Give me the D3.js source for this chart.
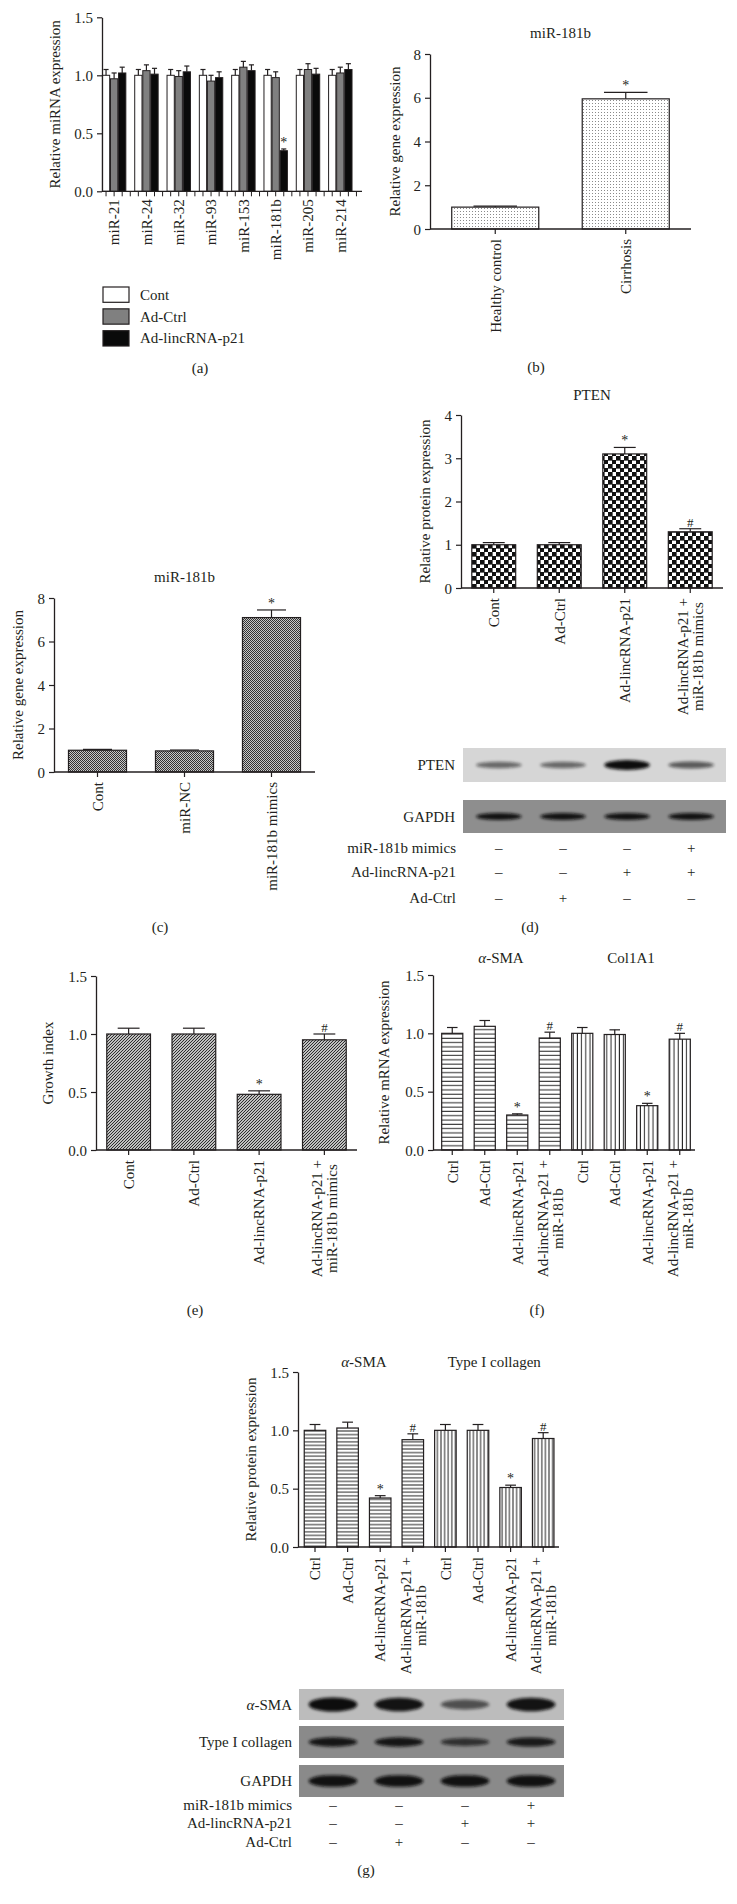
<!DOCTYPE html>
<html><head><meta charset="utf-8">
<script src="https://cdn.jsdelivr.net/npm/d3@7"></script>
<style>
html,body{margin:0;padding:0;background:#fff;}
svg{display:block;}
text{font-family:"Liberation Serif","Times New Roman",serif;fill:#231f20;}
</style></head><body>
<svg id="fig" width="737" height="1904"></svg>
<script>
// ================= DATA =================
// (a) relative miRNA expression
const aCategories = ["miR-21","miR-24","miR-32","miR-93","miR-153","miR-181b","miR-205","miR-214"];
const aSeries = ["Cont","Ad-Ctrl","Ad-lincRNA-p21"];
const aCont = [1.00,1.00,1.00,1.00,1.00,1.00,1.00,1.00];
const aContErr = [0.05,0.05,0.05,0.05,0.05,0.05,0.05,0.05];
const aAdCtrl = [0.97,1.04,0.99,0.95,1.07,0.98,1.05,1.02];
const aAdCtrlErr = [0.05,0.05,0.05,0.05,0.05,0.05,0.05,0.05];
const aP21 = [1.02,1.01,1.03,0.98,1.04,0.35,1.01,1.05];
const aP21Err = [0.05,0.05,0.05,0.05,0.05,0.015,0.05,0.05];
const aMarks = ["","","","","","*","",""];
const aTicks = [0,0.5,1.0,1.5];

// (b) miR-181b in patients
const bCategories = [["Healthy control"],["Cirrhosis"]];
const bValues = [1.0,5.95];
const bErrors = [0.05,0.3];
const bMarks = ["","*"];
const bTicks = [0,2,4,6,8];

// (c) miR-181b after mimics
const cCategories = [["Cont"],["miR-NC"],["miR-181b mimics"]];
const cValues = [1.0,0.97,7.1];
const cErrors = [0.04,0.04,0.35];
const cMarks = ["","","*"];
const cTicks = [0,2,4,6,8];

// (d) PTEN protein
const dCategories = [["Cont"],["Ad-Ctrl"],["Ad-lincRNA-p21"],["Ad-lincRNA-p21 +","miR-181b mimics"]];
const dValues = [1.0,1.0,3.1,1.3];
const dErrors = [0.05,0.05,0.15,0.07];
const dMarks = ["","","*","#"];
const dTicks = [0,1,2,3,4];
const dPtenBand = [0.35,0.35,1.0,0.45];
const dGapdhBand = [0.95,0.95,0.95,0.95];
const dRowLabels = ["miR-181b mimics","Ad-lincRNA-p21","Ad-Ctrl"];
const dMimics = ["–","–","–","+"];
const dP21 = ["–","–","+","+"];
const dAdCtrl = ["–","+","–","–"];

// (e) growth index
const eCategories = [["Cont"],["Ad-Ctrl"],["Ad-lincRNA-p21"],["Ad-lincRNA-p21 +","miR-181b mimics"]];
const eValues = [1.0,1.0,0.48,0.95];
const eErrors = [0.05,0.05,0.03,0.05];
const eMarks = ["","","*","#"];
const eTicks = [0,0.5,1.0,1.5];

// (f) mRNA expression
const fGroups = ["α-SMA","Col1A1"];
const fCategories = [["Ctrl"],["Ad-Ctrl"],["Ad-lincRNA-p21"],["Ad-lincRNA-p21 +","miR-181b"]];
const fSma = [1.0,1.06,0.30,0.96];
const fSmaErr = [0.05,0.05,0.01,0.05];
const fCol = [1.0,0.99,0.38,0.95];
const fColErr = [0.05,0.04,0.02,0.05];
const fMarks = ["","","*","#"];
const fTicks = [0,0.5,1.0,1.5];

// (g) protein expression
const gGroups = ["α-SMA","Type I collagen"];
const gCategories = [["Ctrl"],["Ad-Ctrl"],["Ad-lincRNA-p21"],["Ad-lincRNA-p21 +","miR-181b"]];
const gSma = [1.0,1.02,0.42,0.92];
const gSmaErr = [0.05,0.05,0.02,0.05];
const gCol = [1.0,1.0,0.51,0.93];
const gColErr = [0.05,0.05,0.02,0.05];
const gMarks = ["","","*","#"];
const gTicks = [0,0.5,1.0,1.5];
const gBlotLabels = ["α-SMA","Type I collagen","GAPDH"];
const gSmaBand = [1.0,0.95,0.45,0.95];
const gColBand = [0.9,0.9,0.6,0.85];
const gGapdhBand = [0.95,0.95,0.95,0.95];
const gRowLabels = ["miR-181b mimics","Ad-lincRNA-p21","Ad-Ctrl"];
const gMimics = ["–","–","–","+"];
const gP21 = ["–","–","+","+"];
const gAdCtrl = ["–","+","–","–"];

// ================= DRAWING =================
const svg = d3.select("#fig");
const FS = 15;
const defs = svg.append("defs");

function pat(id,w,h,build){const p=defs.append("pattern").attr("id",id).attr("patternUnits","userSpaceOnUse").attr("width",w).attr("height",h);build(p);}
pat("dots",3,3,p=>{p.append("rect").attr("width",3).attr("height",3).attr("fill","#fff");p.append("rect").attr("x",1).attr("y",1).attr("width",1).attr("height",1).attr("fill","#8a8a8a");});
pat("fine",2,2,p=>{p.append("rect").attr("width",2).attr("height",2).attr("fill","#c8c8c8");p.append("rect").attr("width",1).attr("height",1).attr("fill","#333");p.append("rect").attr("x",1).attr("y",1).attr("width",1).attr("height",1).attr("fill","#333");});
pat("checker",8,8,p=>{p.append("rect").attr("width",8).attr("height",8).attr("fill","#fff");p.append("rect").attr("width",4.6).attr("height",4.6).attr("fill","#111");p.append("rect").attr("x",4).attr("y",4).attr("width",4.6).attr("height",4.6).attr("fill","#111");});
pat("diag",3,3,p=>{p.append("rect").attr("width",3).attr("height",3).attr("fill","#fff");p.append("path").attr("d","M-1,1 L1,-1 M0,3 L3,0 M2,4 L4,2").attr("stroke","#222").attr("stroke-width",1.1);});
pat("hstripe",6,4.3,p=>{p.append("rect").attr("width",6).attr("height",4.3).attr("fill","#fff");p.append("line").attr("x1",0).attr("x2",6).attr("y1",2).attr("y2",2).attr("stroke","#222").attr("stroke-width",1);});
pat("vstripe",4.2,6,p=>{p.append("rect").attr("width",4.2).attr("height",6).attr("fill","#fff");p.append("line").attr("y1",0).attr("y2",6).attr("x1",2).attr("x2",2).attr("stroke","#222").attr("stroke-width",1);});
pat("hstripe2",6,3.6,p=>{p.append("rect").attr("width",6).attr("height",3.6).attr("fill","#fff");p.append("line").attr("x1",0).attr("x2",6).attr("y1",1.8).attr("y2",1.8).attr("stroke","#222").attr("stroke-width",1);});
pat("vstripe2",3.6,6,p=>{p.append("rect").attr("width",3.6).attr("height",6).attr("fill","#fff");p.append("line").attr("y1",0).attr("y2",6).attr("x1",1.8).attr("x2",1.8).attr("stroke","#222").attr("stroke-width",1);});
defs.append("filter").attr("id","blur").attr("x","-20%").attr("y","-100%").attr("width","140%").attr("height","300%")
  .append("feGaussianBlur").attr("stdDeviation",1.8);

function txt(g,x,y,s,anchor,size){return g.append("text").attr("x",x).attr("y",y).attr("text-anchor",anchor||"middle").style("font-size",(size||FS)+"px").text(s);}

// text with italic leading alpha
function greekTxt(g,x,y,s,anchor){
  const t=g.append("text").attr("x",x).attr("y",y).attr("text-anchor",anchor||"middle").style("font-size",FS+"px");
  if(s.startsWith("α")){t.append("tspan").style("font-style","italic").text("α");t.append("tspan").text(s.slice(1));}
  else t.text(s);
  return t;
}

function rotLabel(g,cx,top,lines,lh){
  lh = lh||15;
  const gg=g.append("g").attr("transform",`translate(${cx},${top}) rotate(-90)`);
  const ts=lines.map((s,k)=>gg.append("text").attr("y",(k-(lines.length-1)/2)*lh).attr("dy","0.35em").style("font-size",FS+"px").text(s));
  const L=d3.max(ts,t=>t.node().getComputedTextLength());
  ts.forEach(t=>t.attr("x",-L/2).attr("text-anchor","middle"));
}

function yAxis(g,y,axisX,ticks,fmt){
  const ax=d3.axisLeft(y).tickValues(ticks).tickFormat(fmt).tickSize(5).tickSizeOuter(0).tickPadding(4);
  const a=g.append("g").attr("transform",`translate(${axisX},0)`).call(ax);
  a.select(".domain").attr("stroke","#231f20").attr("stroke-width",1.3);
  a.selectAll(".tick line").attr("stroke","#231f20").attr("stroke-width",1.2);
  a.selectAll(".tick text").style("font-size",FS+"px").style("font-family",'"Liberation Serif",serif').attr("fill","#231f20").attr("dy","0.34em");
}

function yLabel(g,x,yc,s){
  g.append("text").attr("transform",`translate(${x},${yc}) rotate(-90)`).attr("text-anchor","middle").attr("dy","0.35em").style("font-size",FS+"px").text(s);
}

function errBar(g,cx,y,v,e,bw,mark){
  const top=y(v+e);
  g.append("line").attr("x1",cx).attr("x2",cx).attr("y1",y(v)).attr("y2",top).attr("stroke","#231f20").attr("stroke-width",1.2);
  g.append("line").attr("x1",cx-bw*0.25).attr("x2",cx+bw*0.25).attr("y1",top).attr("y2",top).attr("stroke","#231f20").attr("stroke-width",1.2);
  if(mark){txt(g,cx,top-2,mark,"middle",mark==="*"?14:13);}
}

function barPanel(p){
  const g=svg.append("g");
  const n=p.values.length;
  const x=d3.scaleBand().domain(d3.range(n)).range(p.xRange).paddingInner(p.pad).paddingOuter(p.pad/2);
  const y=d3.scaleLinear().domain([0,p.yMax]).range([p.yBottom,p.yTop]);
  const bw=x.bandwidth();
  p.values.forEach((v,i)=>{
    g.append("rect").attr("x",x(i)).attr("y",y(v)).attr("width",bw).attr("height",y(0)-y(v))
      .attr("fill",p.fills[i]).attr("stroke","#231f20").attr("stroke-width",1.2);
    errBar(g,x(i)+bw/2,y,v,p.errors[i],bw,p.marks[i]);
  });
  yAxis(g,y,p.axisX,p.ticks,p.fmt);
  g.append("line").attr("x1",p.axisX).attr("x2",p.xEnd).attr("y1",y(0)).attr("y2",y(0)).attr("stroke","#231f20").attr("stroke-width",1.3);
  p.labels.forEach((lines,i)=>{
    const cx=x(i)+bw/2;
    g.append("line").attr("x1",cx).attr("x2",cx).attr("y1",y(0)).attr("y2",y(0)+5).attr("stroke","#231f20").attr("stroke-width",1.2);
    rotLabel(g,cx,y(0)+10,lines);
  });
  yLabel(g,p.yLabelX,(p.yTop+p.yBottom)/2,p.yLabel);
  if(p.titles){p.titles.forEach((t,k)=>{
    const idx=d3.range(k*n/p.titles.length,(k+1)*n/p.titles.length);
    const cx=d3.mean(idx,i=>x(i)+bw/2);
    greekTxt(g,cx,p.titleY,t,"middle");
  });}
  return {x,y};
}

function blot(g,lane,x0,x1,y0,y1,bg,bands,thick,label,labelX){
  g.append("rect").attr("x",x0).attr("y",y0).attr("width",x1-x0).attr("height",y1-y0).attr("fill",bg);
  const cy=(y0+y1)/2;
  bands.forEach((b,i)=>{
    g.append("ellipse").attr("cx",lane(i)+lane.bandwidth()/2).attr("cy",cy)
      .attr("rx",lane.bandwidth()*0.42).attr("ry",thick*(0.45+0.55*b))
      .attr("fill","#0d0d0d").attr("opacity",0.3+0.7*b).attr("filter","url(#blur)");
  });
  greekTxt(g,labelX,cy+5,label,"end");
}

function signTable(g,lane,rows,labels,ys,labelX){
  rows.forEach((r,k)=>{
    txt(g,labelX,ys[k]+5,labels[k],"end");
    r.forEach((s,i)=>txt(g,lane(i)+lane.bandwidth()/2,ys[k]+5,s,"middle"));
  });
}

// ---------- (a) ----------
(function(){
  const g=svg.append("g");
  const x0=d3.scaleBand().domain(aCategories).range([102,360.5]);
  const slots=[...aSeries,"gap"];
  const x1=d3.scaleBand().domain(slots).range([0,x0.bandwidth()]).paddingInner(0.1).paddingOuter(0.05);
  const y=d3.scaleLinear().domain([0,1.5]).range([191.3,17.3]);
  const colors=["#ffffff","#808080","#0a0a0a"];
  const vals=[aCont,aAdCtrl,aP21], errs=[aContErr,aAdCtrlErr,aP21Err];
  aCategories.forEach((c,i)=>{
    aSeries.forEach((s,j)=>{
      const bx=x0(c)+x1(s), bw=x1.bandwidth(), v=vals[j][i];
      g.append("rect").attr("x",bx).attr("y",y(v)).attr("width",bw).attr("height",y(0)-y(v))
        .attr("fill",colors[j]).attr("stroke","#231f20").attr("stroke-width",1);
      errBar(g,bx+bw/2,y,v,errs[j][i],bw*1.4,j===2?aMarks[i]:"");
    });
  });
  yAxis(g,y,102,aTicks,d3.format(".1f"));
  g.append("line").attr("x1",102).attr("x2",362).attr("y1",y(0)).attr("y2",y(0)).attr("stroke","#231f20").attr("stroke-width",1.3);
  aCategories.forEach(c=>{
    slots.forEach(s=>{
      const cx=x0(c)+x1(s)+x1.bandwidth()/2;
      g.append("line").attr("x1",cx).attr("x2",cx).attr("y1",y(0)).attr("y2",y(0)+5).attr("stroke","#231f20").attr("stroke-width",1);
    });
    rotLabel(g,x0(c)+x1("Ad-Ctrl")+x1.bandwidth()/2,y(0)+8,[c]);
  });
  yLabel(g,55,(17.3+191.3)/2,"Relative miRNA expression");
  const ly=d3.scaleBand().domain(aSeries).range([287,346]).paddingInner(0.3);
  aSeries.forEach((s,j)=>{
    g.append("rect").attr("x",103).attr("y",ly(s)).attr("width",26).attr("height",ly.bandwidth())
      .attr("fill",colors[j]).attr("stroke","#231f20").attr("stroke-width",1.2);
    txt(g,140,ly(s)+ly.bandwidth()/2+5,s,"start");
  });
  txt(g,200,373,"(a)");
})();

// ---------- (b) ----------
barPanel({values:bValues,errors:bErrors,marks:bMarks,labels:bCategories,fills:bValues.map(()=>"url(#dots)"),
  xRange:[430,691],pad:0.333,axisX:430,xEnd:691,yTop:54,yBottom:229,yMax:8,ticks:bTicks,fmt:d3.format("d"),
  yLabel:"Relative gene expression",yLabelX:395,titles:["miR-181b"],titleY:38});
txt(svg,536,372,"(b)");

// ---------- (c) ----------
barPanel({values:cValues,errors:cErrors,marks:cMarks,labels:cCategories,fills:cValues.map(()=>"url(#fine)"),
  xRange:[54,315],pad:0.333,axisX:54,xEnd:315,yTop:598,yBottom:772,yMax:8,ticks:cTicks,fmt:d3.format("d"),
  yLabel:"Relative gene expression",yLabelX:18,titles:["miR-181b"],titleY:582});
txt(svg,160,932,"(c)");

// ---------- (d) ----------
barPanel({values:dValues,errors:dErrors,marks:dMarks,labels:dCategories,fills:dValues.map(()=>"url(#checker)"),
  xRange:[461,723],pad:0.33,axisX:461,xEnd:723,yTop:415,yBottom:588,yMax:4,ticks:dTicks,fmt:d3.format("d"),
  yLabel:"Relative protein expression",yLabelX:425,titles:["PTEN"],titleY:400});
(function(){
  const g=svg.append("g");
  const lane=d3.scaleBand().domain(d3.range(dPtenBand.length)).range([462,728]).padding(0.15);
  blot(g,lane,463,726,748,782,"#d6d6d6",dPtenBand,5,"PTEN",455);
  blot(g,lane,463,726,800,833,"#8e8e8e",dGapdhBand,3.6,"GAPDH",455);
  signTable(g,lane,[dMimics,dP21,dAdCtrl],dRowLabels,[848,872,898],456);
  txt(g,530,932,"(d)");
})();

// ---------- (e) ----------
barPanel({values:eValues,errors:eErrors,marks:eMarks,labels:eCategories,fills:eValues.map(()=>"url(#diag)"),
  xRange:[96,357],pad:0.33,axisX:96,xEnd:357,yTop:976,yBottom:1150,yMax:1.5,ticks:eTicks,fmt:d3.format(".1f"),
  yLabel:"Growth index",yLabelX:48});
txt(svg,195,1315,"(e)");

// ---------- (f) ----------
barPanel({values:[...fSma,...fCol],errors:[...fSmaErr,...fColErr],marks:[...fMarks,...fMarks],labels:[...fCategories,...fCategories],
  fills:[...fSma.map(()=>"url(#hstripe)"),...fCol.map(()=>"url(#vstripe)")],
  xRange:[436,696],pad:0.35,axisX:433,xEnd:695,yTop:975,yBottom:1150,yMax:1.5,ticks:fTicks,fmt:d3.format(".1f"),
  yLabel:"Relative mRNA expression",yLabelX:384,titles:fGroups,titleY:963});
txt(svg,537,1315,"(f)");

// ---------- (g) ----------
barPanel({values:[...gSma,...gCol],errors:[...gSmaErr,...gColErr],marks:[...gMarks,...gMarks],labels:[...gCategories,...gCategories],
  fills:[...gSma.map(()=>"url(#hstripe2)"),...gCol.map(()=>"url(#vstripe2)")],
  xRange:[298.7,559.5],pad:0.34,axisX:298,xEnd:559,yTop:1372,yBottom:1547,yMax:1.5,ticks:gTicks,fmt:d3.format(".1f"),
  yLabel:"Relative protein expression",yLabelX:251,titles:gGroups,titleY:1367});
(function(){
  const g=svg.append("g");
  const lane=d3.scaleBand().domain(d3.range(gSmaBand.length)).range([296,568]).padding(0.12);
  blot(g,lane,299,564,1689,1720,"#bcbcbc",gSmaBand,7,gBlotLabels[0],292);
  blot(g,lane,299,564,1726,1758,"#8a8a8a",gColBand,5,gBlotLabels[1],292);
  blot(g,lane,299,564,1765,1797,"#8a8a8a",gGapdhBand,6,gBlotLabels[2],292);
  signTable(g,lane,[gMimics,gP21,gAdCtrl],gRowLabels,[1805,1823,1842],292);
  txt(g,366,1875,"(g)");
})();
</script></body></html>
